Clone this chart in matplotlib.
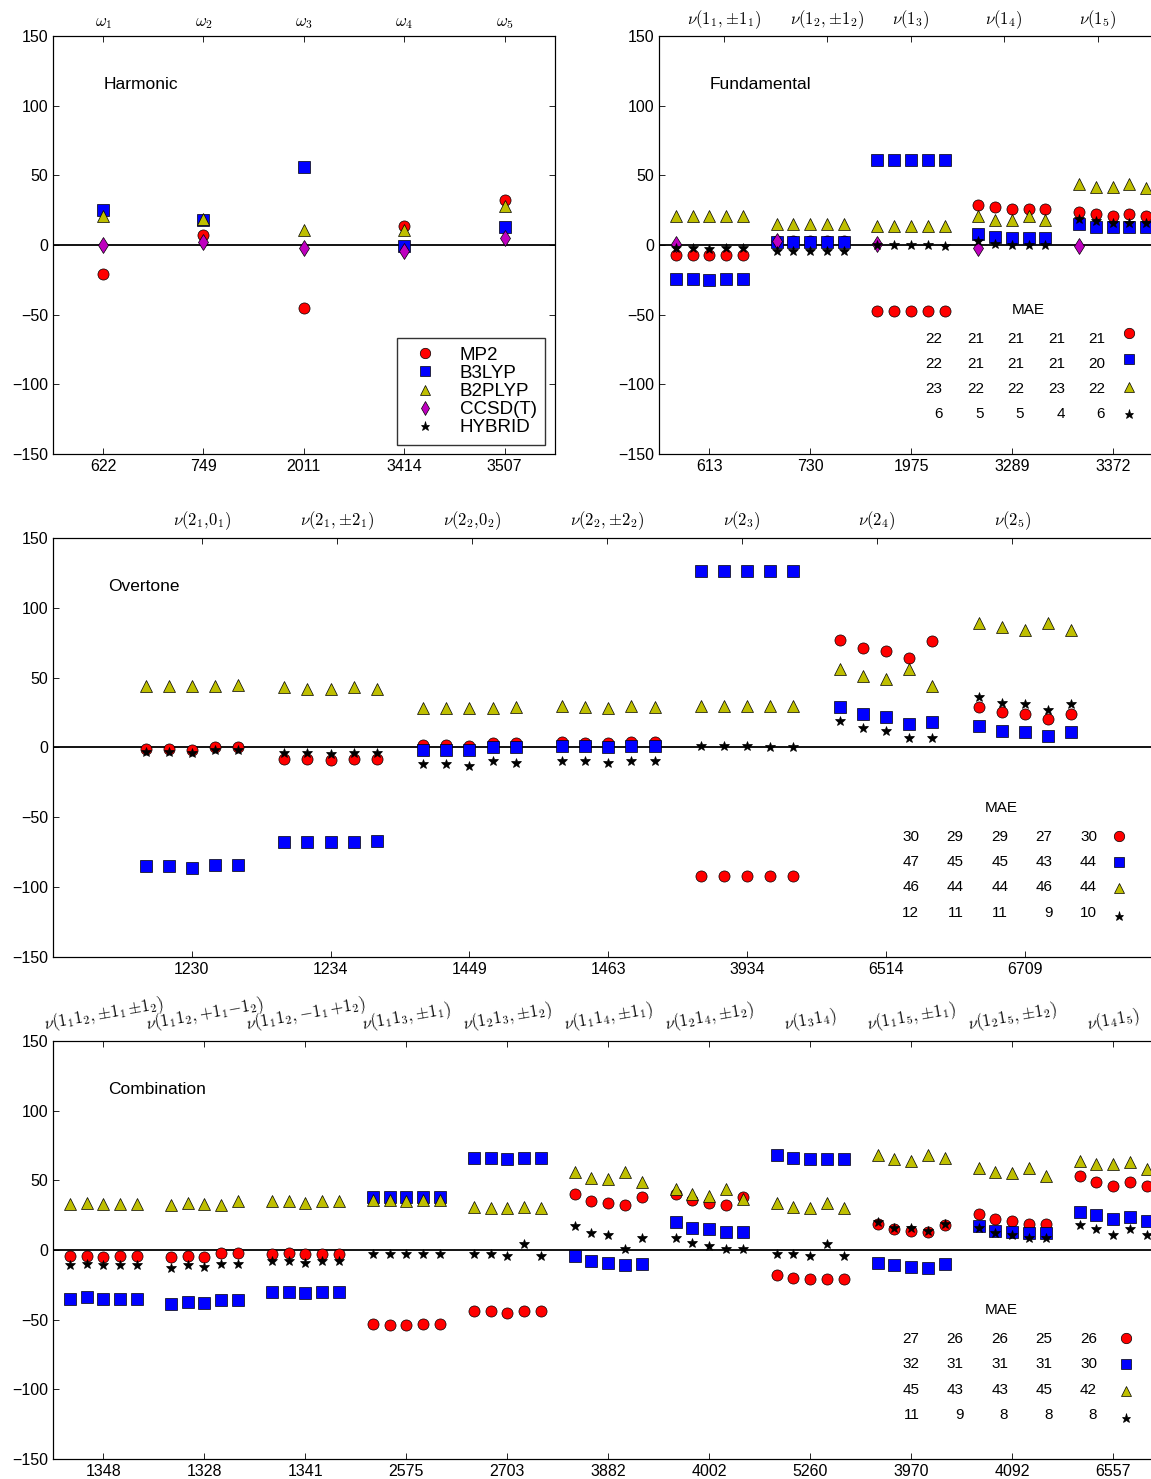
import matplotlib
matplotlib.use('Agg')
import matplotlib.pyplot as plt
from matplotlib.lines import Line2D
import numpy as np

plt.rcParams['font.family'] = ['Liberation Sans', 'DejaVu Sans']
plt.rcParams['mathtext.fontset'] = 'cm'
plt.rcParams['xtick.direction'] = 'in'
plt.rcParams['ytick.direction'] = 'in'
plt.rcParams['ytick.right'] = True
plt.rcParams['axes.unicode_minus'] = True

methods = ['MP2', 'B3LYP', 'B2PLYP', 'CCSD(T)', 'HYBRID']

# harmonic: one value per mode
harm_ticks = ['622', '749', '2011', '3414', '3507']
harm_top = [r'$\omega_1$', r'$\omega_2$', r'$\omega_3$', r'$\omega_4$', r'$\omega_5$']
harm_mp2 = [-21, 7, -45, 14, 32]
harm_b3lyp = [25, 18, 56, -1, 13]
harm_b2plyp = [21, 19, 11, 11, 28]
harm_ccsdt = [0, 2, -2, -4, 5]

# fundamental: five values per band
fund_ticks = ['613', '730', '1975', '3289', '3372']
fund_top = [r'$\nu(1_1,{\pm}1_1)$', r'$\nu(1_2,{\pm}1_2)$', r'$\nu(1_3)$', r'$\nu(1_4)$', r'$\nu(1_5)$']
fund_mp2 = [[-7, -7, -7, -7, -7], [3, 3, 3, 3, 3], [-47, -47, -47, -47, -47],
            [29, 27, 26, 26, 26], [24, 22, 21, 22, 21]]
fund_b3lyp = [[-24, -24, -25, -24, -24], [2, 2, 2, 2, 2], [61, 61, 61, 61, 61],
              [8, 6, 5, 5, 5], [15, 13, 13, 13, 13]]
fund_b2plyp = [[21, 21, 21, 21, 21], [15, 15, 15, 15, 15], [14, 14, 14, 14, 14],
               [21, 18, 18, 21, 18], [44, 42, 42, 44, 41]]
fund_ccsdt = [1, 3, 1, -2, -1]
fund_hybrid = [[-2, -2, -3, -2, -2], [-4, -4, -4, -4, -4], [0, 0, 0, 0, -1],
               [3, 1, 0, 0, 0], [19, 17, 16, 16, 16]]
fund_mae = [[22, 21, 21, 21, 21], [22, 21, 21, 21, 20], [23, 22, 22, 23, 22], [6, 5, 5, 4, 6]]

# overtones
over_ticks = ['1230', '1234', '1449', '1463', '3934', '6514', '6709']
over_top = [r'$\nu(2_1{,}0_1)$', r'$\nu(2_1,{\pm}2_1)$', r'$\nu(2_2{,}0_2)$', r'$\nu(2_2,{\pm}2_2)$',
            r'$\nu(2_3)$', r'$\nu(2_4)$', r'$\nu(2_5)$']
over_mp2 = [[-1, -1, -2, 0, 0], [-8, -8, -9, -8, -8], [2, 2, 1, 3, 3], [4, 3, 3, 4, 4],
            [-92, -92, -92, -92, -92], [77, 71, 69, 64, 76], [29, 25, 24, 20, 24]]
over_b3lyp = [[-85, -85, -86, -84, -84], [-68, -68, -68, -68, -67], [-2, -2, -2, 0, 0],
              [1, 1, 0, 1, 1], [126, 126, 126, 126, 126], [29, 24, 22, 17, 18], [15, 12, 11, 8, 11]]
over_b2plyp = [[44, 44, 44, 44, 45], [43, 42, 42, 43, 42], [28, 28, 28, 28, 29],
               [30, 29, 28, 30, 29], [30, 30, 30, 30, 30], [56, 51, 49, 56, 44], [89, 86, 84, 89, 84]]
over_hybrid = [[-3, -3, -4, -2, -2], [-4, -4, -5, -4, -4], [-12, -12, -13, -10, -11],
               [-10, -10, -11, -10, -10], [1, 1, 1, 0, 0], [19, 14, 12, 7, 7], [36, 32, 31, 27, 31]]
over_mae = [[30, 29, 29, 27, 30], [47, 45, 45, 43, 44], [46, 44, 44, 46, 44], [12, 11, 11, 9, 10]]

# combination bands
comb_ticks = ['1348', '1328', '1341', '2575', '2703', '3882', '4002', '5260', '3970', '4092', '6557']
comb_top = [r'$\nu(1_11_2,{\pm}1_1\,{\pm}1_2)$', r'$\nu(1_11_2,{+}1_1{-}1_2)$',
            r'$\nu(1_11_2,{-}1_1\,{+}1_2)$',
            r'$\nu(1_11_3,{\pm}1_1)$', r'$\nu(1_21_3,{\pm}1_2)$', r'$\nu(1_11_4,{\pm}1_1)$',
            r'$\nu(1_21_4,{\pm}1_2)$', r'$\nu(1_31_4)$', r'$\nu(1_11_5,{\pm}1_1)$',
            r'$\nu(1_21_5,{\pm}1_2)$', r'$\nu(1_41_5)$']
comb_mp2 = [[-4, -4, -5, -4, -4], [-5, -4, -5, -2, -2], [-3, -2, -3, -3, -3],
            [-53, -54, -54, -53, -53], [-44, -44, -45, -44, -44], [40, 35, 34, 32, 38],
            [40, 36, 34, 32, 38], [-18, -20, -21, -21, -21], [19, 15, 14, 13, 18],
            [26, 22, 21, 19, 19], [53, 49, 46, 49, 46]]
comb_b3lyp = [[-35, -34, -35, -35, -35], [-39, -37, -38, -36, -36], [-30, -30, -31, -30, -30],
              [38, 38, 38, 38, 38], [66, 66, 65, 66, 66], [-4, -8, -9, -11, -10],
              [20, 16, 15, 13, 13], [68, 66, 65, 65, 65], [-9, -11, -12, -13, -10],
              [17, 14, 13, 12, 12], [27, 25, 22, 24, 21]]
comb_b2plyp = [[33, 34, 33, 33, 33], [32, 34, 33, 32, 35], [35, 35, 34, 35, 35],
               [36, 36, 35, 36, 36], [31, 30, 30, 31, 30], [56, 52, 51, 56, 49],
               [44, 40, 39, 44, 37], [34, 31, 30, 34, 30], [68, 65, 64, 68, 66],
               [59, 56, 55, 59, 53], [64, 62, 62, 63, 58]]
comb_hybrid = [[-11, -10, -11, -11, -11], [-13, -11, -12, -10, -10], [-8, -8, -9, -8, -8],
               [-3, -3, -3, -3, -3], [-3, -3, -4, 4, -4], [17, 12, 11, 1, 9],
               [9, 5, 3, 1, 1], [-3, -3, -4, 4, -4], [20, 16, 16, 14, 19],
               [16, 12, 11, 9, 9], [18, 15, 11, 15, 11]]
comb_mae = [[27, 26, 26, 25, 26], [32, 31, 31, 31, 30], [45, 43, 43, 45, 42], [11, 9, 8, 8, 8]]

style = {
    'MP2': dict(marker='o', color='#ff0000', ms=8),
    'B3LYP': dict(marker='s', color='#0000ff', ms=8),
    'B2PLYP': dict(marker='^', color='#bfbf00', ms=8),
    'CCSD(T)': dict(marker='d', color='#bf00bf', ms=8),
    'HYBRID': dict(marker='*', color='k', ms=7),
}
offsets = np.arange(-2, 3) / 6.0


def mark(ax, x, y, name, **kw):
    s = style[name]
    ax.plot(x, y, ls='none', marker=s['marker'], mfc=s['color'], mec='k', mew=0.5,
            ms=s['ms'], **kw)


def setup(ax, xlim, ticks, ticklabels, top_pos, top_labels, top_xlim=None, rot=0):
    ax.set_xlim(*xlim)
    ax.set_ylim(-150, 150)
    ax.set_yticks(np.arange(-150, 151, 50))
    ax.set_xticks(ticks)
    ax.set_xticklabels(ticklabels)
    ax.xaxis.tick_bottom()
    ax.tick_params(labelsize=11.5, length=4, width=0.6)
    ax.axhline(0, color='k', lw=1.3, zorder=1)
    ax2 = ax.twiny()
    ax2.set_xlim(*(top_xlim if top_xlim else xlim))
    ax2.set_xticks(top_pos)
    ax2.set_xticklabels(top_labels, fontsize=12, rotation=rot)
    ax2.tick_params(direction='in', length=4, width=0.6, pad=4)
    return ax2


def grouped(ax, centers, data, name):
    for c, vals in zip(centers, data):
        mark(ax, c + offsets, vals, name)


def mae_table(ax, mae, title_xy, col_x, row_y, mark_x, mark_y):
    ax.text(title_xy[0], title_xy[1], 'MAE', transform=ax.transAxes, ha='center',
            va='center', fontsize=11)
    for r, name in enumerate(['MP2', 'B3LYP', 'B2PLYP', 'HYBRID']):
        for c in range(5):
            ax.text(col_x[c], row_y[r], str(mae[r][c]), transform=ax.transAxes,
                    ha='right', va='center', fontsize=11)
        s = style[name]
        ax.plot([mark_x], [mark_y[r]], transform=ax.transAxes, ls='none', marker=s['marker'],
                mfc=s['color'], mec='k', mew=0.5, ms=s['ms'] - 0.5, clip_on=False)


fig = plt.figure(figsize=(11.51, 14.79), dpi=100)
fig.patch.set_facecolor('white')

# Harmonic
ax = fig.add_axes([0.046, 0.693, 0.436, 0.2826])
x = np.arange(len(harm_ticks))
setup(ax, (-0.5, 4.5), x, harm_ticks, x, harm_top)
mark(ax, x, harm_mp2, 'MP2')
mark(ax, x, harm_b3lyp, 'B3LYP')
mark(ax, x, harm_b2plyp, 'B2PLYP')
mark(ax, x, harm_ccsdt, 'CCSD(T)')
ax.text(0.1, 0.883, 'Harmonic', transform=ax.transAxes, fontsize=12.5, va='center')
handles = [Line2D([], [], ls='none', marker=style[m]['marker'], mfc=style[m]['color'],
                  mec='k', mew=0.5, ms=style[m]['ms'] - 0.5) for m in methods]
leg = ax.legend(handles, methods, loc='lower right', numpoints=1, fontsize=13.5,
                labelspacing=0.05, borderpad=0.45, handletextpad=0.8, handlelength=2.1,
                fancybox=False, borderaxespad=0.5)
leg.get_frame().set_edgecolor('k')
leg.get_frame().set_linewidth(1.0)

# Fundamental
ax = fig.add_axes([0.5725, 0.693, 0.438, 0.2826])
x = np.arange(len(fund_ticks))
setup(ax, (-0.5, 4.5), x, fund_ticks, [0.15, 1.17, 2.0, 2.92, 3.85], fund_top)
grouped(ax, x, fund_mp2, 'MP2')
grouped(ax, x, fund_b3lyp, 'B3LYP')
grouped(ax, x, fund_b2plyp, 'B2PLYP')
mark(ax, x + offsets[0], fund_ccsdt, 'CCSD(T)')
grouped(ax, x, fund_hybrid, 'HYBRID')
ax.text(0.1, 0.883, 'Fundamental', transform=ax.transAxes, fontsize=12.5, va='center')
mae_table(ax, fund_mae, (0.732, 0.344), [0.562, 0.645, 0.724, 0.806, 0.885],
          [0.275, 0.215, 0.156, 0.096], 0.933, [0.289, 0.227, 0.160, 0.096])

# Overtone
ax = fig.add_axes([0.046, 0.353, 0.965, 0.2833])
x = np.arange(1, len(over_ticks) + 1)
setup(ax, (0, 8), x, over_ticks, x, over_top, top_xlim=(-0.1, 8.12))
grouped(ax, x, over_mp2, 'MP2')
grouped(ax, x, over_b3lyp, 'B3LYP')
grouped(ax, x, over_b2plyp, 'B2PLYP')
grouped(ax, x, over_hybrid, 'HYBRID')
ax.text(0.05, 0.883, 'Overtone', transform=ax.transAxes, fontsize=12.5, va='center')
mae_table(ax, over_mae, (0.854, 0.356), [0.780, 0.820, 0.860, 0.900, 0.940],
          [0.286, 0.227, 0.167, 0.105], 0.960, [0.289, 0.227, 0.165, 0.098])

# Combination
ax = fig.add_axes([0.046, 0.0135, 0.965, 0.2826])
x = np.arange(len(comb_ticks))
setup(ax, (-0.5, 10.5), x, comb_ticks, x, comb_top, rot=10)
grouped(ax, x, comb_mp2, 'MP2')
grouped(ax, x, comb_b3lyp, 'B3LYP')
grouped(ax, x, comb_b2plyp, 'B2PLYP')
grouped(ax, x, comb_hybrid, 'HYBRID')
ax.text(0.05, 0.883, 'Combination', transform=ax.transAxes, fontsize=12.5, va='center')
mae_table(ax, comb_mae, (0.854, 0.356), [0.780, 0.820, 0.860, 0.900, 0.940],
          [0.287, 0.227, 0.165, 0.105], 0.966, [0.289, 0.227, 0.163, 0.098])

fig.savefig('out.png', dpi=100)
